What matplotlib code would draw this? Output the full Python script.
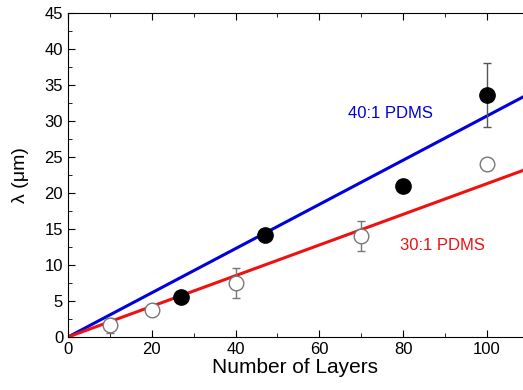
import matplotlib
matplotlib.use("Agg")
import matplotlib.pyplot as plt
from matplotlib.ticker import MultipleLocator

plt.rcParams['font.family'] = ['Liberation Sans', 'DejaVu Sans']

# 40:1 PDMS (filled)
x40 = [27, 47, 80, 100]
y40 = [5.5, 14.2, 21.0, 33.6]
e40 = [0.0, 0.0, 0.0, 4.5]
# 30:1 PDMS (open)
x30 = [10, 20, 40, 70, 100]
y30 = [1.6, 3.8, 7.5, 14.0, 24.0]
e30 = [1.0, 0.6, 2.1, 2.1, 0.8]
# fitted lines (slopes)
slope40 = 0.307
slope30 = 0.213
xfit = [0, 110]

fig = plt.figure(figsize=(5.23, 3.9), dpi=100)
ax = fig.add_axes([68/523, 53/390, (523-68)/523, (337-13)/390])

ax.plot(xfit, [slope40*v for v in xfit], color='#0000dd', lw=2.2, zorder=2)
ax.plot(xfit, [slope30*v for v in xfit], color='#ee1111', lw=2.2, zorder=2)

ax.errorbar(x30, y30, yerr=e30, fmt='o', ms=10.5, mfc='white', mec='#777777',
            mew=1.0, ecolor='#777777', elinewidth=1.0, capsize=3, zorder=3)
ax.errorbar(x40, y40, yerr=e40, fmt='o', ms=11, mfc='black', mec='black',
            ecolor='#555555', elinewidth=1.0, capsize=3, zorder=4)

ax.text(66.8, 30.4, '40:1 PDMS', color='#0000dd', fontsize=12)
ax.text(79.2, 12.1, '30:1 PDMS', color='#ee1111', fontsize=12)

ax.set_xlim(0, 108.6)
ax.set_ylim(0, 45)
ax.xaxis.set_major_locator(MultipleLocator(20))
ax.xaxis.set_minor_locator(MultipleLocator(10))
ax.yaxis.set_major_locator(MultipleLocator(5))
ax.yaxis.set_minor_locator(MultipleLocator(2.5))
ax.tick_params(which='both', direction='in', top=True, right=False, labelsize=12)
ax.tick_params(which='major', length=5)
ax.tick_params(which='minor', length=3)
ax.spines['right'].set_visible(False)
ax.set_xlabel('Number of Layers', fontsize=15, labelpad=1)
ax.set_ylabel('λ (μm)', fontsize=14, labelpad=11)

fig.savefig('out.png', dpi=100)
